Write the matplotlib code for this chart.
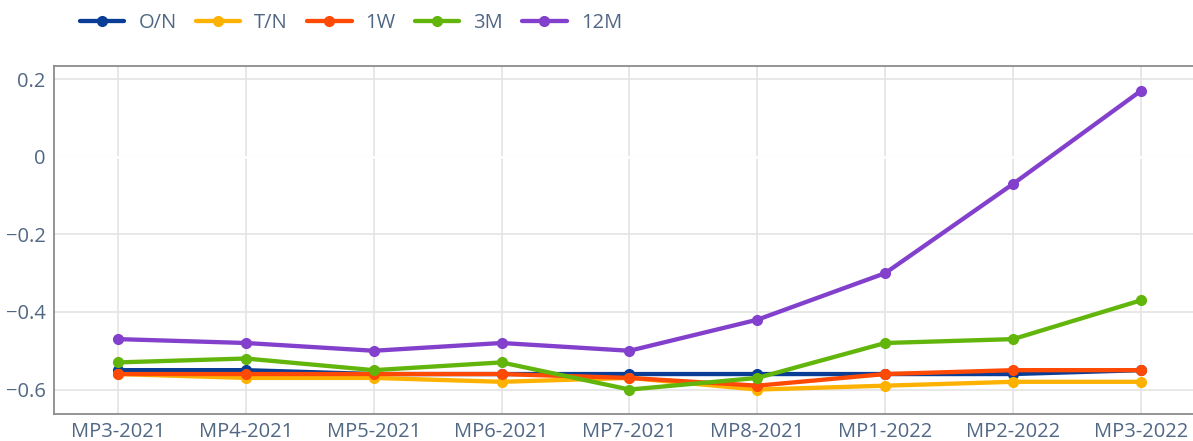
import matplotlib.pyplot as plt
from matplotlib.ticker import FuncFormatter

plt.rcParams['font.family'] = ['Open Sans', 'DejaVu Sans']

#---------------------data
periods = ["MP3-2021", "MP4-2021", "MP5-2021", "MP6-2021", "MP7-2021",
           "MP8-2021", "MP1-2022", "MP2-2022", "MP3-2022"]
on_rate = [-0.55, -0.55, -0.56, -0.56, -0.56, -0.56, -0.56, -0.56, -0.55]
tn_rate = [-0.56, -0.57, -0.57, -0.58, -0.57, -0.60, -0.59, -0.58, -0.58]
w1_rate = [-0.56, -0.56, -0.56, -0.56, -0.57, -0.59, -0.56, -0.55, -0.55]
m3_rate = [-0.53, -0.52, -0.55, -0.53, -0.60, -0.57, -0.48, -0.47, -0.37]
m12_rate = [-0.47, -0.48, -0.50, -0.48, -0.50, -0.42, -0.30, -0.07, 0.17]

names = ["O/N", "T/N", "1W", "3M", "12M"]
colors = ["#0a3d96", "#fdb202", "#fe4a05", "#62b50a", "#8240cc"]
series = [on_rate, tn_rate, w1_rate, m3_rate, m12_rate]

#---------------------plot
fig = plt.figure(figsize=(11.93, 4.41), dpi=100)
ax = fig.add_axes([0.0453, 0.0612, 0.9547, 0.7893])

x = list(range(len(periods)))
for vals, nm, c in zip(series, names, colors):
    ax.plot(x, vals, color=c, lw=3.1, marker='o', markersize=7, label=nm,
            solid_capstyle='round', zorder=3)

ax.axhline(0, color='white', lw=2, zorder=1.5)
ax.set_xlim(-0.5, 8.407)
ax.set_ylim(-0.663, 0.234)
ax.set_xticks(x)
ax.set_xticklabels(periods)
ax.set_yticks([-0.6, -0.4, -0.2, 0, 0.2])
ax.yaxis.set_major_formatter(FuncFormatter(lambda v, p: "0" if abs(v) < 1e-9 else f"{v:.1f}".replace("-", "\u2212")))
ax.grid(True, color="#e4e4e4", lw=1.2, zorder=0)
ax.set_axisbelow(True)
ax.tick_params(length=0, labelsize=14.5, labelcolor="#506784")
ax.tick_params(axis='y', pad=6)
ax.tick_params(axis='x', pad=6)
for s in ['left', 'bottom', 'top']:
    ax.spines[s].set_color("#8c8c8c")
    ax.spines[s].set_linewidth(1.3)
ax.spines['right'].set_visible(False)

leg = fig.legend(loc='upper left', bbox_to_anchor=(0.052, 1.012), ncol=5, frameon=False,
                 handlelength=2.2, handletextpad=0.7, columnspacing=0.95, fontsize=14.5)
for t in leg.get_texts():
    t.set_color("#506784")

fig.savefig("out.png", dpi=100)
